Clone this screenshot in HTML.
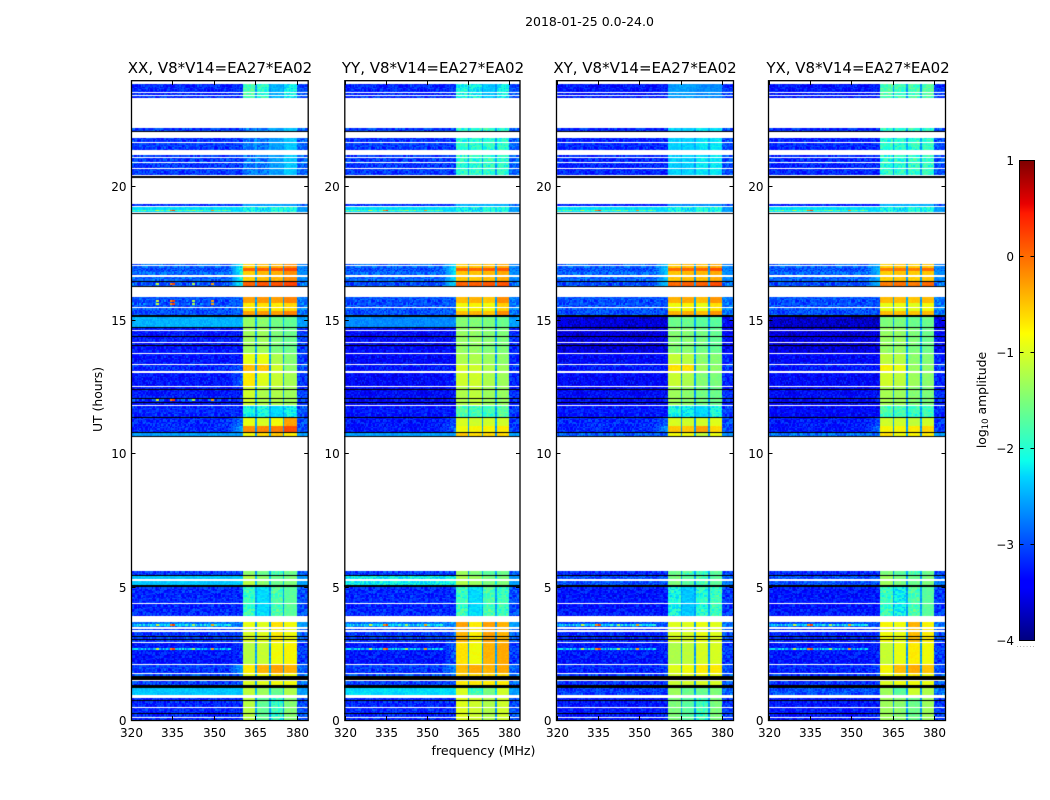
<!DOCTYPE html>
<html>
<head>
<meta charset="utf-8">
<title>2018-01-25 0.0-24.0</title>
<style>
html,body{margin:0;padding:0;background:#fff;}
#stage{position:relative;width:1050px;height:800px;overflow:hidden;background:#fff;}
canvas{position:absolute;top:81px;}
svg{position:absolute;left:0;top:0;}
text{font-family:"DejaVu Sans","Liberation Sans",sans-serif;fill:#000;}
</style>
</head>
<body>
<div id="stage">
  <canvas id="hm0" style="left:131px" width="177" height="639"></canvas>
  <canvas id="hm1" style="left:344px" width="176" height="639"></canvas>
  <canvas id="hm2" style="left:556px" width="177" height="639"></canvas>
  <canvas id="hm3" style="left:768px" width="177" height="639"></canvas>
  <svg id="overlay" width="1050" height="800" xmlns="http://www.w3.org/2000/svg">
    <defs>
      <linearGradient id="jet" x1="0" y1="1" x2="0" y2="0">
        <stop offset="0" stop-color="#00007f"/>
        <stop offset="0.11" stop-color="#0000ff"/>
        <stop offset="0.125" stop-color="#0000ff"/>
        <stop offset="0.34" stop-color="#00d4ff"/>
        <stop offset="0.375" stop-color="#0dffea"/>
        <stop offset="0.5" stop-color="#7cff79"/>
        <stop offset="0.64" stop-color="#ffff00"/>
        <stop offset="0.66" stop-color="#ffea00"/>
        <stop offset="0.89" stop-color="#ff1a00"/>
        <stop offset="0.91" stop-color="#e80000"/>
        <stop offset="1" stop-color="#7f0000"/>
      </linearGradient>
    </defs>
    <text x="589.5" y="26" font-size="12.5" text-anchor="middle">2018-01-25 0.0-24.0</text>
    <text x="220" y="73" font-size="15" text-anchor="middle">XX, V8*V14=EA27*EA02</text>
    <text x="433" y="73" font-size="15" text-anchor="middle">YY, V8*V14=EA27*EA02</text>
    <text x="645" y="73" font-size="15" text-anchor="middle">XY, V8*V14=EA27*EA02</text>
    <text x="858" y="73" font-size="15" text-anchor="middle">YX, V8*V14=EA27*EA02</text>
    <text x="483.5" y="755" font-size="12.6" text-anchor="middle">frequency (MHz)</text>
    <text x="102" y="399.5" font-size="12.4" text-anchor="middle" transform="rotate(-90 102 399.5)">UT (hours)</text>
    <rect x="1019.5" y="160.5" width="15" height="480" fill="url(#jet)" stroke="#000" stroke-width="1"/>
    <text x="986" y="400" font-size="12.4" text-anchor="middle" transform="rotate(-90 986 400)">log<tspan font-size="8.5" dy="2">10</tspan><tspan dy="-2"> amplitude</tspan></text>
    <text x="1026" y="647" font-size="7" text-anchor="middle" style="fill:#888;letter-spacing:1px">......</text>
  </svg>
</div>
<script>
// Time ranges (UT hours) of each drawn row block; anything not listed is flagged white.
const rowStart = [0,0.113,0.244,0.254,0.498,0.70,0.739,0.948,1.21,1.311,1.488,1.661,1.75,2.088,2.923,3.014,3.044,3.114,3.144,3.373,3.483,3.897,4.373,4.984,5.048,5.272,5.397,5.423,
  10.619,10.644,10.758,10.778,11.028,11.317,11.357,11.806,11.866,11.916,12.036,12.086,12.365,12.405,12.505,13.074,13.333,13.752,13.912,14.032,14.052,14.162,14.351,14.401,14.621,14.691,14.74,15.11,15.17,15.33,15.47,15.63,
  16.24,16.27,16.44,16.47,16.68,16.82,16.95,17.06,18.96,19.03,19.26,20.32,20.42,20.69,20.92,21.11,21.36,21.68,22.02,22.07,23.31,23.43,23.54];
const rowEnd = [0.075,0.244,0.254,0.461,0.70,0.739,0.824,1.21,1.311,1.462,1.661,1.724,2.05,2.885,3.014,3.044,3.114,3.144,3.309,3.41,3.673,4.336,4.984,5.048,5.21,5.397,5.423,5.584,
  10.644,10.758,10.778,11.028,11.317,11.357,11.766,11.866,11.916,12.036,12.086,12.365,12.405,12.475,13.024,13.294,13.713,13.892,14.032,14.052,14.132,14.351,14.401,14.591,14.691,14.74,15.11,15.17,15.33,15.44,15.63,15.85,
  16.27,16.44,16.47,16.59,16.82,16.95,17.02,17.09,18.99,19.21,19.34,20.40,20.64,20.89,21.07,21.17,21.64,21.81,22.07,22.19,23.39,23.5,23.83];
// Level-group name of each block; "K" is a black (zero-filled) block.
const rowGroup = ["A","A","K","A","A","K","A","B","K","C","K","D2","D","E","F","K","F","K","F","F","F2","G","G","K","H","H","K","I",
  "K","J","K","K1","K2","K","L","M","K","M","K","M","K","M","M2","N1","N2","O","O","K","O","O","K","O","O","K","P","K","Q","Q2","Q2","Q",
  "K","R","K","R2","R2","R","R2","R2","K","S","V","K","T","T","T","T","T","T","K","T","U","U","U"];

const groupNames = ["A","B","C","D2","D","E","F","F2","G","H","I","J","K1","K2","L","M","M2","N1","N2","O","P","Q","Q2","R","R2","S","V","T","U"];
// log10 amplitude per group: [background, shoulder 355-360 MHz, sub-band 1, 2, 3, 4]
const levelsXX = [[-3.2,-3.2,-1.15,-1.65,-1.95,-1.45],[-2.4,-2.4,-1.1,-1.3,-1.6,-1.2],[-3.1,-3,-0.95,-0.9,-0.8,-0.8],[-3,-2.8,-0.9,-0.8,-0.7,-0.8],[-3.1,-2.6,-0.7,-0.4,-0.3,-0.4],[-3.3,-3.2,-1.15,-1.05,-0.8,-0.75],[-3.1,-3,-0.95,-0.9,-0.7,-0.8],[-2.8,-2.8,-0.85,-0.9,-0.65,-0.8],[-3.2,-3.2,-1.9,-2.3,-1.8,-1.7],[-2.4,-2.4,-1.15,-1.4,-1.6,-1.5],[-3.1,-3.1,-1.4,-1.6,-1.8,-1.6],[-2.6,-2.6,-0.8,-0.6,-0.5,-0.7],[-3.2,-2.5,-0.2,-0.15,-0.1,0.15],[-3.2,-2.8,-0.85,-0.95,-0.8,-0.3],[-3.2,-3.2,-2.1,-2.1,-2.3,-2.2],[-3.3,-3.3,-1,-1.2,-1.2,-1.3],[-3.3,-2.9,-0.7,-0.9,-1.05,-1.25],[-3.2,-3,-0.45,-0.5,-1,-1.4],[-3.3,-3.3,-0.85,-0.85,-1.2,-1.45],[-3.3,-3.3,-1.3,-1.3,-1.5,-1.6],[-2.5,-2.5,-1.35,-1.4,-1.55,-1.65],[-3,-2.9,-0.3,-0.25,-0.3,-0.15],[-3,-2.9,-0.7,-0.65,-0.7,-0.6],[-3,-2,0.05,0.1,0.12,0.2],[-2.9,-2.1,-0.55,-0.45,-0.4,-0.2],[-2.3,-2.3,-2.2,-2.2,-2.1,-2.1],[-3.1,-3.1,-2.6,-2.6,-2.6,-2.6],[-3.1,-3.1,-2.8,-2.8,-2.6,-2.4],[-3.2,-3.2,-1.8,-2,-2.5,-2.2]];
const levelsYY = [[-3.2,-3.2,-0.9,-1,-1.2,-1],[-2.3,-2.3,-0.95,-1.9,-1.5,-1],[-3.1,-3,-0.7,-0.7,-0.7,-0.7],[-3,-2.8,-0.6,-0.6,-0.6,-0.6],[-3.1,-2.7,-0.45,-0.35,-0.4,-0.35],[-3.3,-3,-0.65,-0.8,-0.4,-0.35],[-3.1,-2.9,-0.4,-0.7,-0.3,-0.4],[-2.8,-2.7,-0.3,-0.7,-0.3,-0.4],[-3.2,-3.2,-1.9,-2.3,-1.8,-1.9],[-2.2,-2.2,-1.2,-1.3,-1.5,-1.5],[-3.1,-3.1,-1.3,-1.5,-1.7,-1.6],[-2.6,-2.6,-0.5,-0.6,-0.6,-0.6],[-3.3,-2.9,-0.8,-0.75,-0.75,-0.7],[-3.3,-3,-0.95,-1,-1,-1],[-3.3,-3.3,-1.75,-1.85,-1.85,-1.75],[-3.4,-3.4,-1.2,-1.1,-1.3,-1.35],[-3.4,-3.2,-1,-1,-1.2,-1.3],[-3.3,-3.3,-0.95,-1,-1.2,-1.3],[-3.4,-3.4,-1.2,-1.2,-1.3,-1.4],[-3.4,-3.4,-1.35,-1.35,-1.45,-1.5],[-2.7,-2.7,-1.45,-1.45,-1.5,-1.6],[-3,-2.9,-0.45,-0.4,-0.5,-0.2],[-3,-2.9,-0.8,-0.75,-0.8,-0.55],[-3,-2.2,0.05,0.05,0.1,0.1],[-2.9,-2.3,-0.5,-0.5,-0.45,-0.35],[-2.3,-2.3,-2.2,-2.2,-2.1,-2.1],[-3.1,-3.1,-2.5,-2.5,-2.5,-2.5],[-3.1,-3.1,-2,-2,-1.95,-2],[-3.2,-3.2,-2.1,-2.2,-2.4,-2.2]];
const levelsXY = [[-3.3,-3.3,-1.5,-1.7,-1.9,-1.5],[-3.1,-3.1,-1.3,-1.6,-1.6,-1.5],[-3.2,-3.1,-1.05,-1,-0.95,-0.95],[-3.1,-3,-1,-0.9,-0.85,-0.85],[-3.2,-3.1,-0.9,-0.8,-0.7,-0.7],[-3.3,-3.3,-1.2,-1.1,-0.95,-0.95],[-3.2,-3.1,-0.95,-0.95,-0.85,-0.9],[-3,-3,-0.9,-0.9,-0.85,-0.9],[-3.3,-3.3,-2.1,-2.4,-2,-1.9],[-3,-3,-1.5,-1.7,-1.8,-1.7],[-3.2,-3.2,-1.6,-1.8,-1.9,-1.7],[-2.9,-2.9,-0.8,-0.8,-1.1,-0.85],[-3.2,-2.6,-0.5,-0.5,-0.3,-0.6],[-3.2,-2.9,-0.95,-1,-1,-0.9],[-3.3,-3.3,-2.1,-2.2,-2.3,-2.1],[-3.4,-3.4,-1.3,-1.4,-1.55,-1.6],[-3.4,-3.4,-1.05,-1.2,-1.45,-1.5],[-3.3,-3.3,-0.65,-0.65,-1.3,-1.4],[-3.4,-3.4,-1.05,-1.15,-1.4,-1.45],[-3.6,-3.6,-1.45,-1.45,-1.55,-1.65],[-3.6,-3.6,-1.6,-1.6,-1.7,-1.7],[-3,-3,-0.4,-0.35,-0.45,-0.25],[-3,-3,-0.8,-0.75,-0.85,-0.65],[-3,-2.3,0,0.05,0.05,0.15],[-2.9,-2.4,-0.5,-0.45,-0.45,-0.35],[-2.3,-2.3,-2.2,-2.2,-2.1,-2.1],[-3.2,-3.2,-2.7,-2.7,-2.7,-2.7],[-3.2,-3.2,-2.35,-2.35,-2.25,-2.25],[-3.3,-3.3,-2.6,-2.6,-2.7,-2.7]];
const levelsYX = [[-3.3,-3.3,-1.3,-1.4,-1.6,-1.3],[-3,-3,-1.3,-1.7,-1,-1.2],[-3.2,-3.1,-0.95,-0.85,-0.8,-0.85],[-3.1,-3,-0.85,-0.75,-0.7,-0.8],[-3.2,-3.1,-0.75,-0.45,-0.35,-0.5],[-3.3,-3.3,-1.05,-0.85,-0.7,-0.8],[-3.2,-3.1,-0.8,-0.85,-0.45,-0.7],[-3,-3,-0.75,-0.8,-0.4,-0.75],[-3.3,-3.3,-1.9,-2.2,-1.8,-1.7],[-3,-3,-1.3,-1.5,-1.6,-1.5],[-3.2,-3.2,-1.5,-1.7,-1.8,-1.6],[-2.8,-2.8,-0.65,-0.8,-0.75,-0.7],[-3.3,-2.8,-0.75,-0.75,-0.7,-0.6],[-3.3,-3,-1,-1,-1.1,-1],[-3.4,-3.4,-1.8,-1.85,-1.9,-1.9],[-3.4,-3.4,-1.25,-1.3,-1.45,-1.5],[-3.4,-3.4,-1,-1.1,-1.3,-1.4],[-3.3,-3.3,-0.75,-0.85,-1.35,-1.4],[-3.4,-3.4,-1.1,-1.15,-1.4,-1.45],[-3.6,-3.6,-1.35,-1.35,-1.5,-1.6],[-3.7,-3.7,-1.5,-1.5,-1.6,-1.6],[-3,-3,-0.45,-0.45,-0.5,-0.45],[-3,-3,-0.85,-0.85,-0.9,-0.8],[-3,-2.4,-0.1,-0.05,-0.1,0],[-2.9,-2.5,-0.55,-0.5,-0.55,-0.5],[-2.3,-2.3,-2.2,-2.2,-2.1,-2.1],[-3.2,-3.2,-2.5,-2.5,-2.5,-2.5],[-3.2,-3.2,-2,-2,-1.95,-1.95],[-3.3,-3.3,-1.8,-1.9,-1.85,-1.75]];
const panelLevels = [levelsXX, levelsYY, levelsXY, levelsYX];

// Narrowband interference seen on the left side of the spectrum, strongest in XX at 12-16 h.
const rfiUT = [2.68, 3.56, 12.0, 15.6, 15.72, 16.35, 19.12];
const rfiBase = [-2.5, -2.3, -3.1, -3, -3.1, -3, -1.7];
const rfiChannels = [329, 334, 335, 342, 349, 357];
const rfiPeak = [-1, -0.2, 0.2, -1.2, -0.3, -0.5];
// Panels each interference line's hot channels show in: 1 visible, 0 absent (XX, YY, XY, YX).
const rfiPanels = [[1,1,1,1],[1,1,1,1],[1,0,0,0],[1,0,0,0],[1,0,0,0],[1,0,0,0],[1,1,1,1]];

// Hand-estimated cell scatter to imitate the channel noise texture.
const scatter = [0.6,-0.4,0.1,-0.9,0.8,-0.2,0.4,-0.7,0.3,1,-0.5,0,-0.8,0.5,-0.1,0.7,-0.6,0.2,-1,0.9,-0.3,0.4,-0.6,0.1,0.8,-0.9,0.3,-0.2,0.6,-0.7,0,0.5,-0.4,0.9,-0.8,0.2,-0.1,0.7,-0.5,0.3,-0.3];

const xTickValues = [320,335,350,365,380];
const xTickLabels = ["320","335","350","365","380"];
const yTickValues = [0,5,10,15,20];
const yTickLabels = ["0","5","10","15","20"];
const cbarTickValues = [1,0,-1,-2,-3,-4];
const cbarTickLabels = ["1","0","\u22121","\u22122","\u22123","\u22124"];

const panelLeft = [131,344.5,556.5,768.5];
const panelRight = [308,520,733,945];
const plotTop = 81, plotBottom = 720;
const freqMin = 320, freqMax = 384, utMin = 0, utMax = 23.95;
const cbarMin = -4, cbarMax = 1;

function xScale(p, f){ return panelLeft[p] + (f-freqMin)/(freqMax-freqMin)*(panelRight[p]-panelLeft[p]); }
function yScale(t){ return plotBottom - (t-utMin)/(utMax-utMin)*(plotBottom-plotTop); }
function cbarScale(v){ return 640 - (v-cbarMin)/(cbarMax-cbarMin)*480; }

function ramp(x,x0,x1){ return Math.max(0,Math.min(1,(x-x0)/(x1-x0))); }
function jet(v){
  const p = Math.max(0,Math.min(1,(v-cbarMin)/(cbarMax-cbarMin)));
  let r = p<0.89 ? ramp(p,0.35,0.66) : 1-0.5*ramp(p,0.89,1);
  let g = p<0.64 ? ramp(p,0.125,0.375) : 1-ramp(p,0.64,0.91);
  let b = p<0.35 ? 0.5+0.5*ramp(p,0,0.11) : 1-ramp(p,0.34,0.65);
  return "rgb("+Math.round(r*255)+","+Math.round(g*255)+","+Math.round(b*255)+")";
}

function channelLevel(lv, f){
  if(f<355) return lv[0];
  if(f<360.4) return lv[0]+(lv[1]-lv[0])*ramp(f,355,360);
  if(f<364.9) return lv[2];
  if(f<365.5) return Math.max(lv[0],-2.6);
  if(f<369.9) return lv[3];
  if(f<370.5) return Math.max(lv[0],-2.6);
  if(f<374.9) return lv[4];
  if(f<375.5) return Math.max(lv[0],-2.6);
  if(f<380) return lv[5];
  return Math.min(lv[0]+0.2,-2.6);
}

function drawPanel(p){
  const cv = document.getElementById("hm"+p);
  const ctx = cv.getContext("2d");
  const left = Math.floor(panelLeft[p]);
  const levels = panelLevels[p];
  const df = 0.5, dt = 0.05;
  let rowIndex = 0;
  for(let i=0;i<rowStart.length;i++){
    const yTop = Math.round(yScale(rowEnd[i]))-plotTop;
    const yBot = Math.max(Math.round(yScale(rowStart[i]))-plotTop, yTop+1);
    if(rowGroup[i]==="K"){
      ctx.fillStyle="#000";
      ctx.fillRect(0,yTop,cv.width,yBot-yTop);
      continue;
    }
    const lv = levels[groupNames.indexOf(rowGroup[i])];
    for(let t=rowStart[i]; t<rowEnd[i]-1e-6; t+=dt){
      rowIndex++;
      const y0 = Math.max(yTop, Math.round(yScale(Math.min(t+dt,rowEnd[i])))-plotTop);
      const y1 = Math.min(yBot, Math.round(yScale(t))-plotTop);
      if(y1<=y0) continue;
      let rfi = -1;
      for(let k=0;k<rfiUT.length;k++){ if(rfiPanels[k][p] && Math.abs(t+dt/2-rfiUT[k])<0.03) rfi=k; }
      let c = 0;
      for(let f=freqMin; f<freqMax; f+=df){
        c++;
        const base = channelLevel(lv,f);
        const s = scatter[(c*c + rowIndex*7 + c*rowIndex) % scatter.length];
        let amp;
        if(base<-2.7) amp = 0.3;
        else if(base<-2.2) amp = 0.12;
        else if(base<-1.7) amp = 0.3;
        else if(base<-1.3) amp = 0.1;
        else amp = 0.05;
        let v = base + s*amp;
        if(rfi>=0 && f<356){
          v = Math.max(v, rfiBase[rfi]+s*0.5);
          const q = rfiChannels.indexOf(Math.floor(f));
          if(q>=0) v = rfiPeak[q];
        }
        ctx.fillStyle = jet(v);
        const x0 = Math.round(xScale(p,f))-left;
        const x1 = Math.round(xScale(p,f+df))-left;
        if(x1>x0) ctx.fillRect(x0,y0,x1-x0,y1-y0);
      }
    }
  }
}

const svg = document.getElementById("overlay");
const NS = "http://www.w3.org/2000/svg";
function addLine(x1,y1,x2,y2){
  const l = document.createElementNS(NS,"line");
  l.setAttribute("x1",x1); l.setAttribute("y1",y1); l.setAttribute("x2",x2); l.setAttribute("y2",y2);
  l.setAttribute("stroke","#000"); l.setAttribute("stroke-width","1");
  svg.appendChild(l);
  return l;
}
function addLabel(x,y,txt,anchor){
  const e = document.createElementNS(NS,"text");
  e.setAttribute("x",x); e.setAttribute("y",y); e.setAttribute("font-size","12");
  e.setAttribute("text-anchor",anchor);
  e.textContent = txt;
  svg.appendChild(e);
  return e;
}
const xLeftPx = [131.5,344.8,556.5,768.5];
const xRightPx = [308.2,520,733.5,945.5];
for(let p=0;p<4;p++){
  drawPanel(p);
  const frame = document.createElementNS(NS,"rect");
  frame.setAttribute("x",xLeftPx[p]);
  frame.setAttribute("y",80.7);
  frame.setAttribute("width",xRightPx[p]-xLeftPx[p]);
  frame.setAttribute("height",639.8);
  frame.setAttribute("fill","none");
  frame.setAttribute("stroke","#000");
  frame.setAttribute("stroke-width","1.3");
  
  
  svg.appendChild(frame);
  xTickValues.forEach(function(v,i){
    const x = Math.round(xScale(p,v))+0.5;
    const t1 = addLine(x,plotBottom,x,plotBottom-4);
    
    
    const t2 = addLine(x,plotTop,x,plotTop+4);
    
    
    const lab = addLabel(x,737,xTickLabels[i],"middle");
    
    
  });
  yTickValues.forEach(function(v,i){
    const y = Math.round(yScale(v))+0.5;
    const t1 = addLine(xLeftPx[p],y,xLeftPx[p]+4,y);
    
    
    const t2 = addLine(xRightPx[p]-4,y,xRightPx[p],y);
    
    
    const lab = addLabel(xLeftPx[p]-5,y+4.5,yTickLabels[i],"end");
    
    
  });
}
cbarTickValues.forEach(function(v,i){
  const y = Math.round(cbarScale(v))+0.5;
  const t1 = addLine(1019.5,y,1023.5,y);
  
  
  const t2 = addLine(1030.5,y,1034.5,y);
  
  
  const lab = addLabel(1014,y+4.5,cbarTickLabels[i],"end");
  
  
});
</script>
</body>
</html>
